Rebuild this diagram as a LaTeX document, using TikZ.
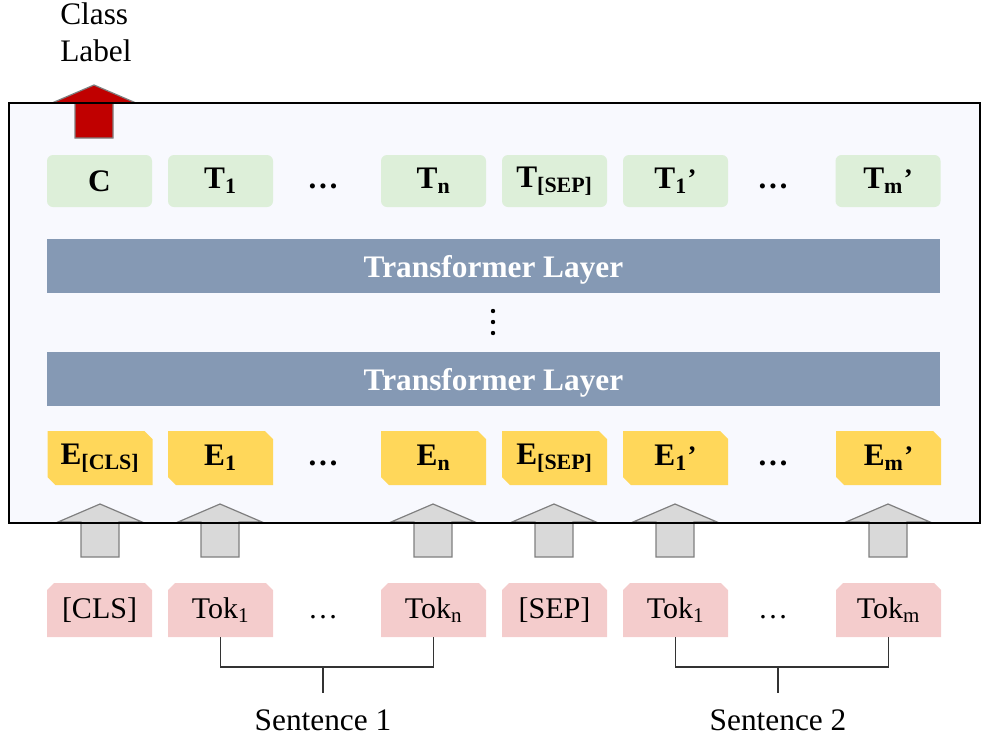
\documentclass[tikz,border=0pt]{standalone}
\usepackage{fontspec}
\setmainfont{Liberation Serif}
\definecolor{framebg}{HTML}{F8F9FE}
\definecolor{tgreen}{HTML}{DDEFD9}
\definecolor{layerblue}{HTML}{8599B4}
\definecolor{eyellow}{HTML}{FFD75A}
\definecolor{tokpink}{HTML}{F4CCCC}
\definecolor{arrgray}{HTML}{D9D9D9}
\definecolor{arredge}{HTML}{7F7F7F}
\definecolor{clsred}{HTML}{C00000}

% embedding box: top-right and bottom-left corners snipped
\newcommand\embbox[4]{%
  \fill[eyellow] (#2-52.5,#3-27) -- (#2+44.5,#3-27) -- (#2+52.5,#3-19)
    -- (#2+52.5,#3+27) -- (#2-44.5,#3+27) -- (#2-52.5,#3+19) -- cycle;
  \node[elab] (#1) at (#2,#3) {#4};}
% token box: both top corners snipped
\newcommand\tokbox[4]{%
  \fill[tokpink] (#2-45.5,#3-27) -- (#2+45.5,#3-27) -- (#2+52.5,#3-20)
    -- (#2+52.5,#3+27) -- (#2-52.5,#3+27) -- (#2-52.5,#3-20) -- cycle;
  \node[tlab] (#1) at (#2,#3) {#4};}
% block arrow pointing up: centre x, bottom y, head base y, tip y, fill
\newcommand\blockup[5]{%
  \draw[arredge, line width=0.9pt, fill=#5, line join=miter]
    (#1-19,#2) -- (#1-19,#3) -- (#1-42,#3) -- (#1,#4) -- (#1+42,#3)
    -- (#1+19,#3) -- (#1+19,#2) -- cycle;}
% closing quote used as a prime
\newcommand\qprime{\kern0.5pt\raisebox{1pt}{\fontsize{20}{24}\selectfont ’}}

\begin{document}
\begin{tikzpicture}[x=0.75pt,y=-0.75pt,
  obox/.style={fill=tgreen, rounded corners=4.5pt, minimum width=78.75pt,
    minimum height=39pt, inner sep=0pt, font=\fontsize{23.5}{27}\selectfont\bfseries},
  layer/.style={fill=layerblue, minimum width=669.75pt, minimum height=40.5pt,
    inner sep=0pt, text height=20pt, text depth=3pt, text=white,
    font=\fontsize{23.5}{27}\selectfont\bfseries},
  elab/.style={inner sep=0pt, font=\fontsize{23.5}{27}\selectfont\bfseries},
  tlab/.style={inner sep=0pt, font=\fontsize{22.5}{26}\selectfont},
  bdots/.style={inner sep=0pt, font=\fontsize{23.5}{27}\selectfont\bfseries},
  rdots/.style={inner sep=0pt, font=\fontsize{22.5}{26}\selectfont},
  bracket/.style={line width=0.8pt, black!80},
  sent/.style={inner sep=0pt, font=\fontsize{23.5}{27}\selectfont}]
\useasboundingbox (0,0) rectangle (981,736);

% outer frame background
\fill[framebg] (9,103) rectangle (980,523);

% arrows into and out of the model
\blockup{94}{138}{103}{85}{clsred}
\foreach \ax in {100,220,433,554,675,888}{\blockup{\ax}{557}{522}{504}{arrgray}}

% frame outline
\draw[line width=1.1pt] (9,103) rectangle (980,523);

% output label
\node[anchor=north west, inner sep=0pt, align=left,
  font=\fontsize{23.5}{27.75}\selectfont] (cls) at (60,2) {Class\\Label};

% output representations
\node[obox] (oc)  at (99.5,181) {C};
\node[obox] (o1)  at (220.5,181) {T\textsubscript{1}};
\node[bdots] (od1) at (323,186) {…};
\node[obox] (on)  at (433.5,181) {T\textsubscript{n}};
\node[obox] (osep) at (554.5,181) {T\textsubscript{[SEP]}};
\node[obox] (o1b) at (675.5,181) {T\textsubscript{1}\qprime};
\node[bdots] (od2) at (773,186) {…};
\node[obox] (omb) at (888,181) {T\textsubscript{m}\qprime};

% transformer stack
\node[layer] (l2) at (493.5,266) {Transformer Layer};
\fill (493,311) circle (2.2) (493,322) circle (2.2) (493,333) circle (2.2);
\node[layer] (l1) at (493.5,379) {Transformer Layer};

% input embeddings
\embbox{ecls}{100}{458}{E\textsubscript{[CLS]}}
\embbox{e1}{220.5}{458}{E\textsubscript{1}}
\node[bdots] (ed1) at (323,463) {…};
\embbox{en}{433.5}{458}{E\textsubscript{n}}
\embbox{esep}{554.5}{458}{E\textsubscript{[SEP]}}
\embbox{e1b}{675.5}{458}{E\textsubscript{1}\qprime}
\node[bdots] (ed2) at (773,463) {…};
\embbox{emb}{888.5}{458}{E\textsubscript{m}\qprime}

% input tokens
\tokbox{tcls}{99.5}{610}{[CLS]}
\tokbox{t1}{220.5}{610}{Tok\textsubscript{1}}
\node[rdots] (td1) at (323,617) {…};
\tokbox{tn}{433.5}{610}{Tok\textsubscript{n}}
\tokbox{tsep}{554.5}{610}{[SEP]}
\tokbox{t1b}{675.5}{610}{Tok\textsubscript{1}}
\node[rdots] (td2) at (773,617) {…};
\tokbox{tm}{888.5}{610}{Tok\textsubscript{m}}

% sentence brackets
\node[sent, anchor=north] (s1) at (323,709) {Sentence 1};
\node[sent, anchor=north] (s2) at (778,709) {Sentence 2};
\coordinate (j1) at (323,667);
\coordinate (j2) at (778,667);
\draw[bracket] (t1.center |- 0,637) |- (j1) -| (tn.center |- 0,637);
\draw[bracket] (j1) -- (s1.north |- 0,693);
\draw[bracket] (t1b.center |- 0,637) |- (j2) -| (tm.center |- 0,637);
\draw[bracket] (j2) -- (s2.north |- 0,693);
\end{tikzpicture}
\end{document}
